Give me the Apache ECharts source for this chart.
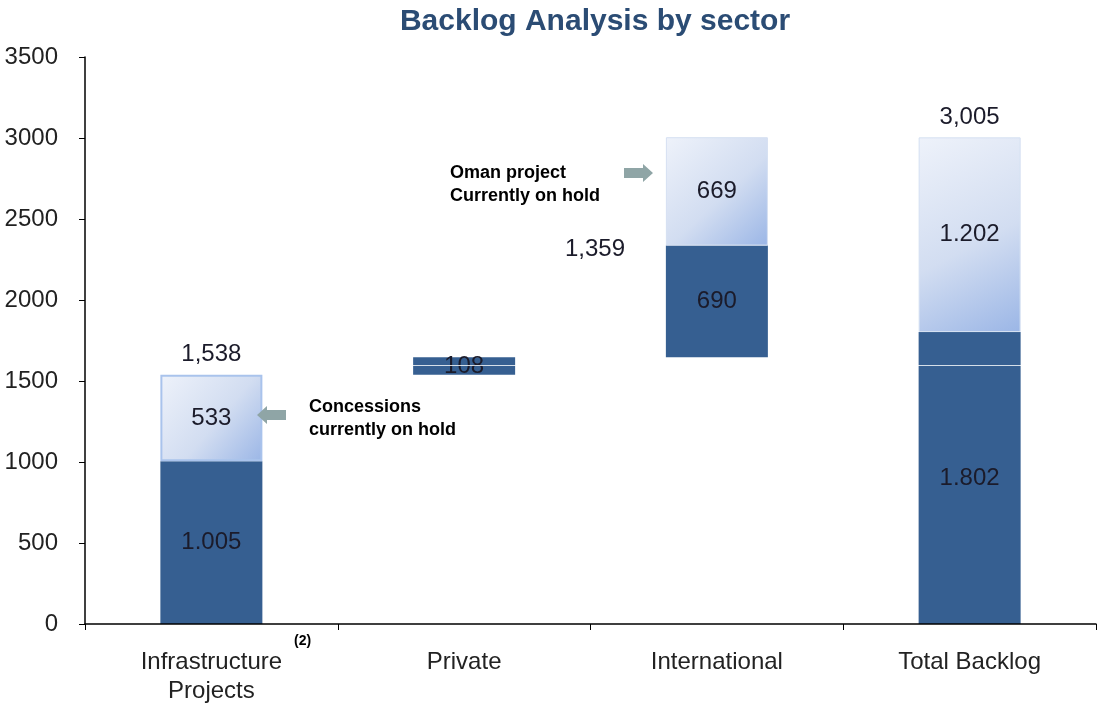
<!DOCTYPE html>
<html>
<head>
<meta charset="utf-8">
<script src="https://cdn.jsdelivr.net/npm/echarts@6/dist/echarts.min.js"></script>
<style>html,body{margin:0;padding:0;background:#fff}#c{width:1097px;height:707px}</style>
</head>
<body>
<div id="c"></div>
<script>
const categories = ['Infrastructure\nProjects', 'Private', 'International', 'Total Backlog'];
const baseValues = [0, 1538, 1646, 0];
const activeValues = [1005, 108, 690, 1802];
const activeLabels = ['1.005', '108', '690', '1.802'];
const onHoldValues = [533, '-', 669, 1202];
const onHoldLabels = ['533', '', '669', '1.202'];
const totalLabels = ['1,538', '', '', '3,005'];
const yTicks = [0, 500, 1000, 1500, 2000, 2500, 3000, 3500];
const splitLineValue = 1600;

const chart = echarts.init(document.getElementById('c'), null, {renderer: 'canvas'});
const DARK = '#365F91';
const font = 'Liberation Sans, Arial, sans-serif';
const lightGrad = () => new echarts.graphic.LinearGradient(0, 0, 1, 1, [
  {offset: 0, color: '#EEF2FA'},
  {offset: 0.55, color: '#D2DDF1'},
  {offset: 1, color: '#9BB6E6'}
]);

function arrow(x, y, dir) {
  const L = 29, h = 5, head = 10, hh = 9;
  const pts = dir > 0
    ? [[x, y - h], [x + L - head, y - h], [x + L - head, y - hh], [x + L, y], [x + L - head, y + hh], [x + L - head, y + h], [x, y + h]]
    : [[x + L, y - h], [x + head, y - h], [x + head, y - hh], [x, y], [x + head, y + hh], [x + head, y + h], [x + L, y + h]];
  return {type: 'polygon', shape: {points: pts}, style: {fill: '#8FA5A6'}, z: 10};
}

const onHoldData = onHoldValues.map((v, i) => ({
  value: v,
  itemStyle: i === 0
    ? {color: lightGrad(), borderColor: '#A9C3EC', borderWidth: 2}
    : {color: lightGrad(), borderColor: '#D5E0F2', borderWidth: 1}
}));

chart.setOption({
  animation: false,
  title: {
    text: 'Backlog Analysis by sector',
    left: 590, top: 2, textAlign: 'center',
    textStyle: {fontFamily: font, fontSize: 30, fontWeight: 'bold', color: '#2B4C74'}
  },
  grid: {left: 85, right: 1, top: 57, bottom: 83, containLabel: false},
  xAxis: {
    type: 'category',
    data: categories,
    z: 10,
    axisLine: {lineStyle: {color: '#000', width: 1.5}},
    axisTick: {show: true, length: 6, lineStyle: {color: '#000'}},
    axisLabel: {interval: 0, fontFamily: font, fontSize: 24, color: '#222', margin: 24, lineHeight: 29}
  },
  yAxis: {
    type: 'value', min: 0, max: 3500, interval: 500,
    z: 10,
    axisLine: {show: true, lineStyle: {color: '#000', width: 1.5}},
    axisTick: {show: true, length: 6, lineStyle: {color: '#000'}},
    splitLine: {show: false},
    axisLabel: {fontFamily: font, fontSize: 24, color: '#222', margin: 27,
      formatter: v => yTicks.includes(v) ? String(v) : ''}
  },
  series: [
    {
      type: 'bar', stack: 's', data: baseValues, barWidth: 102,
      itemStyle: {color: 'transparent'}, silent: true
    },
    {
      type: 'bar', stack: 's', data: activeValues,
      itemStyle: {color: DARK},
      label: {show: true, position: 'inside', fontFamily: font, fontSize: 24, color: '#1b1b2a',
        formatter: p => activeLabels[p.dataIndex]},
      markLine: {
        silent: true, symbol: 'none', label: {show: false},
        lineStyle: {color: '#ffffff', width: 1, type: 'solid', opacity: 0.8},
        data: [{yAxis: splitLineValue}]
      }
    },
    {
      type: 'bar', stack: 's', data: onHoldData,
      label: {show: true, position: 'inside', fontFamily: font, fontSize: 24, color: '#1b1b2a',
        formatter: p => onHoldLabels[p.dataIndex]}
    },
    {
      type: 'bar', stack: 's', data: [0, '-', '-', 0],
      itemStyle: {color: 'transparent'},
      label: {show: true, position: 'top', distance: 8, fontFamily: font, fontSize: 24, color: '#1b1b2a',
        formatter: p => totalLabels[p.dataIndex]}
    }
  ],
  graphic: [
    {type: 'text', left: 565, top: 237, style: {text: '1,359', font: '24px ' + font, fill: '#1b1b2a'}},
    {type: 'text', left: 309, top: 396, style: {text: 'Concessions\ncurrently on hold', font: 'bold 18px ' + font, fill: '#000', lineHeight: 23}},
    {type: 'text', left: 450, top: 162, style: {text: 'Oman project\nCurrently on hold', font: 'bold 18px ' + font, fill: '#000', lineHeight: 23}},
    {type: 'text', left: 294, top: 634, style: {text: '(2)', font: 'bold 14px ' + font, fill: '#000'}},
    arrow(257, 415, -1),
    arrow(624, 173, 1)
  ]
});
</script>
</body>
</html>
